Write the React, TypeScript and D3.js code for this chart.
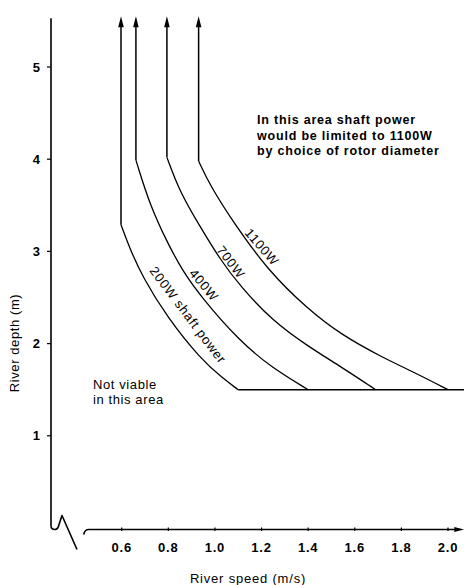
import React from 'react';
import * as d3 from 'd3';

// ---- data ----
const speedTicks = [0.6, 0.8, 1.0, 1.2, 1.4, 1.6, 1.8, 2.0];
const depthTicks = [1, 2, 3, 4, 5];

const powerNames = ['200W', '400W', '700W', '1100W'];
const curveLabels = ['200W shaft power', '400W', '700W', '1100W'];

const speed200 = [0.597, 0.635, 0.69, 0.794, 0.936, 1.035, 1.1];
const depth200 = [3.29, 3.03, 2.72, 2.29, 1.84, 1.62, 1.5];

const speed400 = [0.661, 0.721, 0.799, 0.859, 0.936, 1.108, 1.249, 1.4];
const depth400 = [3.99, 3.5, 3.08, 2.8, 2.52, 2.02, 1.73, 1.5];

const speed700 = [0.794, 0.85, 0.936, 1.02, 1.109, 1.25, 1.4, 1.54, 1.69];
const depth700 = [4.02, 3.64, 3.27, 2.92, 2.62, 2.24, 1.97, 1.75, 1.5];

const speed1100 = [0.93, 0.98, 1.078, 1.225, 1.4, 1.54, 1.71, 1.87, 2.0];
const depth1100 = [3.98, 3.71, 3.32, 2.8, 2.37, 2.1, 1.86, 1.67, 1.5];

const minDepth = 1.5;      // horizontal cut-off
const topDepth = 5.55;     // top of the arrows
const axisTopDepth = 5.53;
const axisEndSpeed = 2.07;
const axisStartSpeed = 0.437;

const noteLines = [
  'In this area shaft power',
  'would be limited to 1100W',
  'by choice of rotor diameter',
];
const notViable = ['Not viable', 'in this area'];
const xTitle = 'River speed (m/s)';
const yTitle = 'River depth (m)';

// ---- layout ----
const W = 464;
const H = 585;
const FONT = "'Liberation Sans', Arial, Helvetica, sans-serif";

const x = d3.scaleLinear().domain([0.6, 2.0]).range([121.7, 448]);
const y = d3.scaleLinear().domain([0, 5]).range([528, 67]);

const series = [
  { speeds: speed200, depths: depth200 },
  { speeds: speed400, depths: depth400 },
  { speeds: speed700, depths: depth700 },
  { speeds: speed1100, depths: depth1100 },
];

// label placement (pixels) and rotation
const labelStyle = [
  { cx: 188, cy: 315, rot: 53 },
  { cx: 204, cy: 285, rot: 50 },
  { cx: 231, cy: 262, rot: 52 },
  { cx: 262, cy: 247, rot: 49 },
];

const curveGen = d3
  .line<[number, number]>()
  .x((d) => x(d[0]))
  .y((d) => y(d[1]))
  .curve(d3.curveBasis);

export default function App() {
  const axisX = 51;
  const axisY = 529.5;
  const yAxisTop = y(axisTopDepth);
  const xStart = x(axisStartSpeed);
  const xEnd = x(axisEndSpeed);

  return (
    <svg
      width={W}
      height={H}
      viewBox={`0 0 ${W} ${H}`}
      style={{ position: 'absolute', left: 0, top: 0, background: '#fff' }}
      fontFamily={FONT}
    >
      <rect width={W} height={H} fill="#fff" />

      {/* y axis with break */}
      <path
        d={`M${axisX},${yAxisTop} L${axisX},${axisY - 4} Q${axisX},${axisY} ${axisX + 4},${axisY} Q${axisX + 7},${axisY} ${axisX + 8},${axisY - 5} L${axisX + 11},${axisY - 14} L${axisX + 26},${axisY + 20}`}
        fill="none"
        stroke="#000"
        strokeWidth={1.6}
        strokeLinejoin="round"
      />
      {depthTicks.map((t) => (
        <g key={t}>
          <line x1={axisX - 4} x2={axisX} y1={y(t)} y2={y(t)} stroke="#000" strokeWidth={1.2} />
          <text
            x={40}
            y={y(t)}
            dy="0.36em"
            textAnchor="end"
            fontSize={13}
            fontWeight="bold"
          >
            {t}
          </text>
        </g>
      ))}

      {/* x axis */}
      <path
        d={`M${xStart},${axisY + 5} Q${xStart + 1},${axisY} ${xStart + 5},${axisY} L${xEnd - 6},${axisY}`}
        fill="none"
        stroke="#000"
        strokeWidth={1.6}
      />
      <path
        d={`M${xEnd},${axisY} L${xEnd - 10},${axisY - 2.6} L${xEnd - 10},${axisY + 2.6} Z`}
        fill="#000"
      />
      {speedTicks.map((t) => (
        <g key={t}>
          <line x1={x(t)} x2={x(t)} y1={axisY - 2} y2={axisY + 1.5} stroke="#000" strokeWidth={1.2} />
          <text
            x={x(t)}
            y={552}
            textAnchor="middle"
            fontSize={13}
            fontWeight="bold"
            letterSpacing={0.8}
          >
            {t.toFixed(1)}
          </text>
        </g>
      ))}

      {/* curves */}
      {series.map((s, i) => {
        const pts: [number, number][] = s.speeds.map((v, j) => [v, s.depths[j]]);
        const x0 = x(s.speeds[0]);
        const yTop = y(topDepth);
        const yK = y(s.depths[0]);
        return (
          <g key={powerNames[i]}>
            <line x1={x0} x2={x0} y1={yTop + 8} y2={yK} stroke="#000" strokeWidth={1.5} />
            <path
              d={`M${x0},${yTop} L${x0 - 2.8},${yTop + 11} L${x0 + 2.8},${yTop + 11} Z`}
              fill="#000"
            />
            <path d={curveGen(pts) || ''} fill="none" stroke="#000" strokeWidth={1.3} />
          </g>
        );
      })}
      {/* horizontal cut-off at minimum depth */}
      <line
        x1={x(speed200[speed200.length - 1])}
        x2={xEnd}
        y1={y(minDepth)}
        y2={y(minDepth)}
        stroke="#000"
        strokeWidth={1.5}
      />

      {/* curve labels */}
      {curveLabels.map((lab, i) => (
        <text
          key={lab}
          transform={`translate(${labelStyle[i].cx},${labelStyle[i].cy}) rotate(${labelStyle[i].rot})`}
          textAnchor="middle"
          dy="0.35em"
          fontSize={13}
          letterSpacing={0.8}
        >
          {lab}
        </text>
      ))}

      {/* annotations */}
      <text fontSize={12.5} fontWeight="bold" letterSpacing={0.8}>
        {noteLines.map((l, i) => (
          <tspan key={i} x={257} y={124 + i * 15.5}>
            {l}
          </tspan>
        ))}
      </text>
      <text fontSize={13} letterSpacing={0.6}>
        {notViable.map((l, i) => (
          <tspan key={i} x={93} y={388.5 + i * 15}>
            {l}
          </tspan>
        ))}
      </text>

      {/* axis titles */}
      <text x={248} y={583} textAnchor="middle" fontSize={13} letterSpacing={0.8}>
        {xTitle}
      </text>
      <text
        transform={`translate(14,343) rotate(-90)`}
        textAnchor="middle"
        dy="0.35em"
        fontSize={13}
        letterSpacing={0.6}
      >
        {yTitle}
      </text>
    </svg>
  );
}
